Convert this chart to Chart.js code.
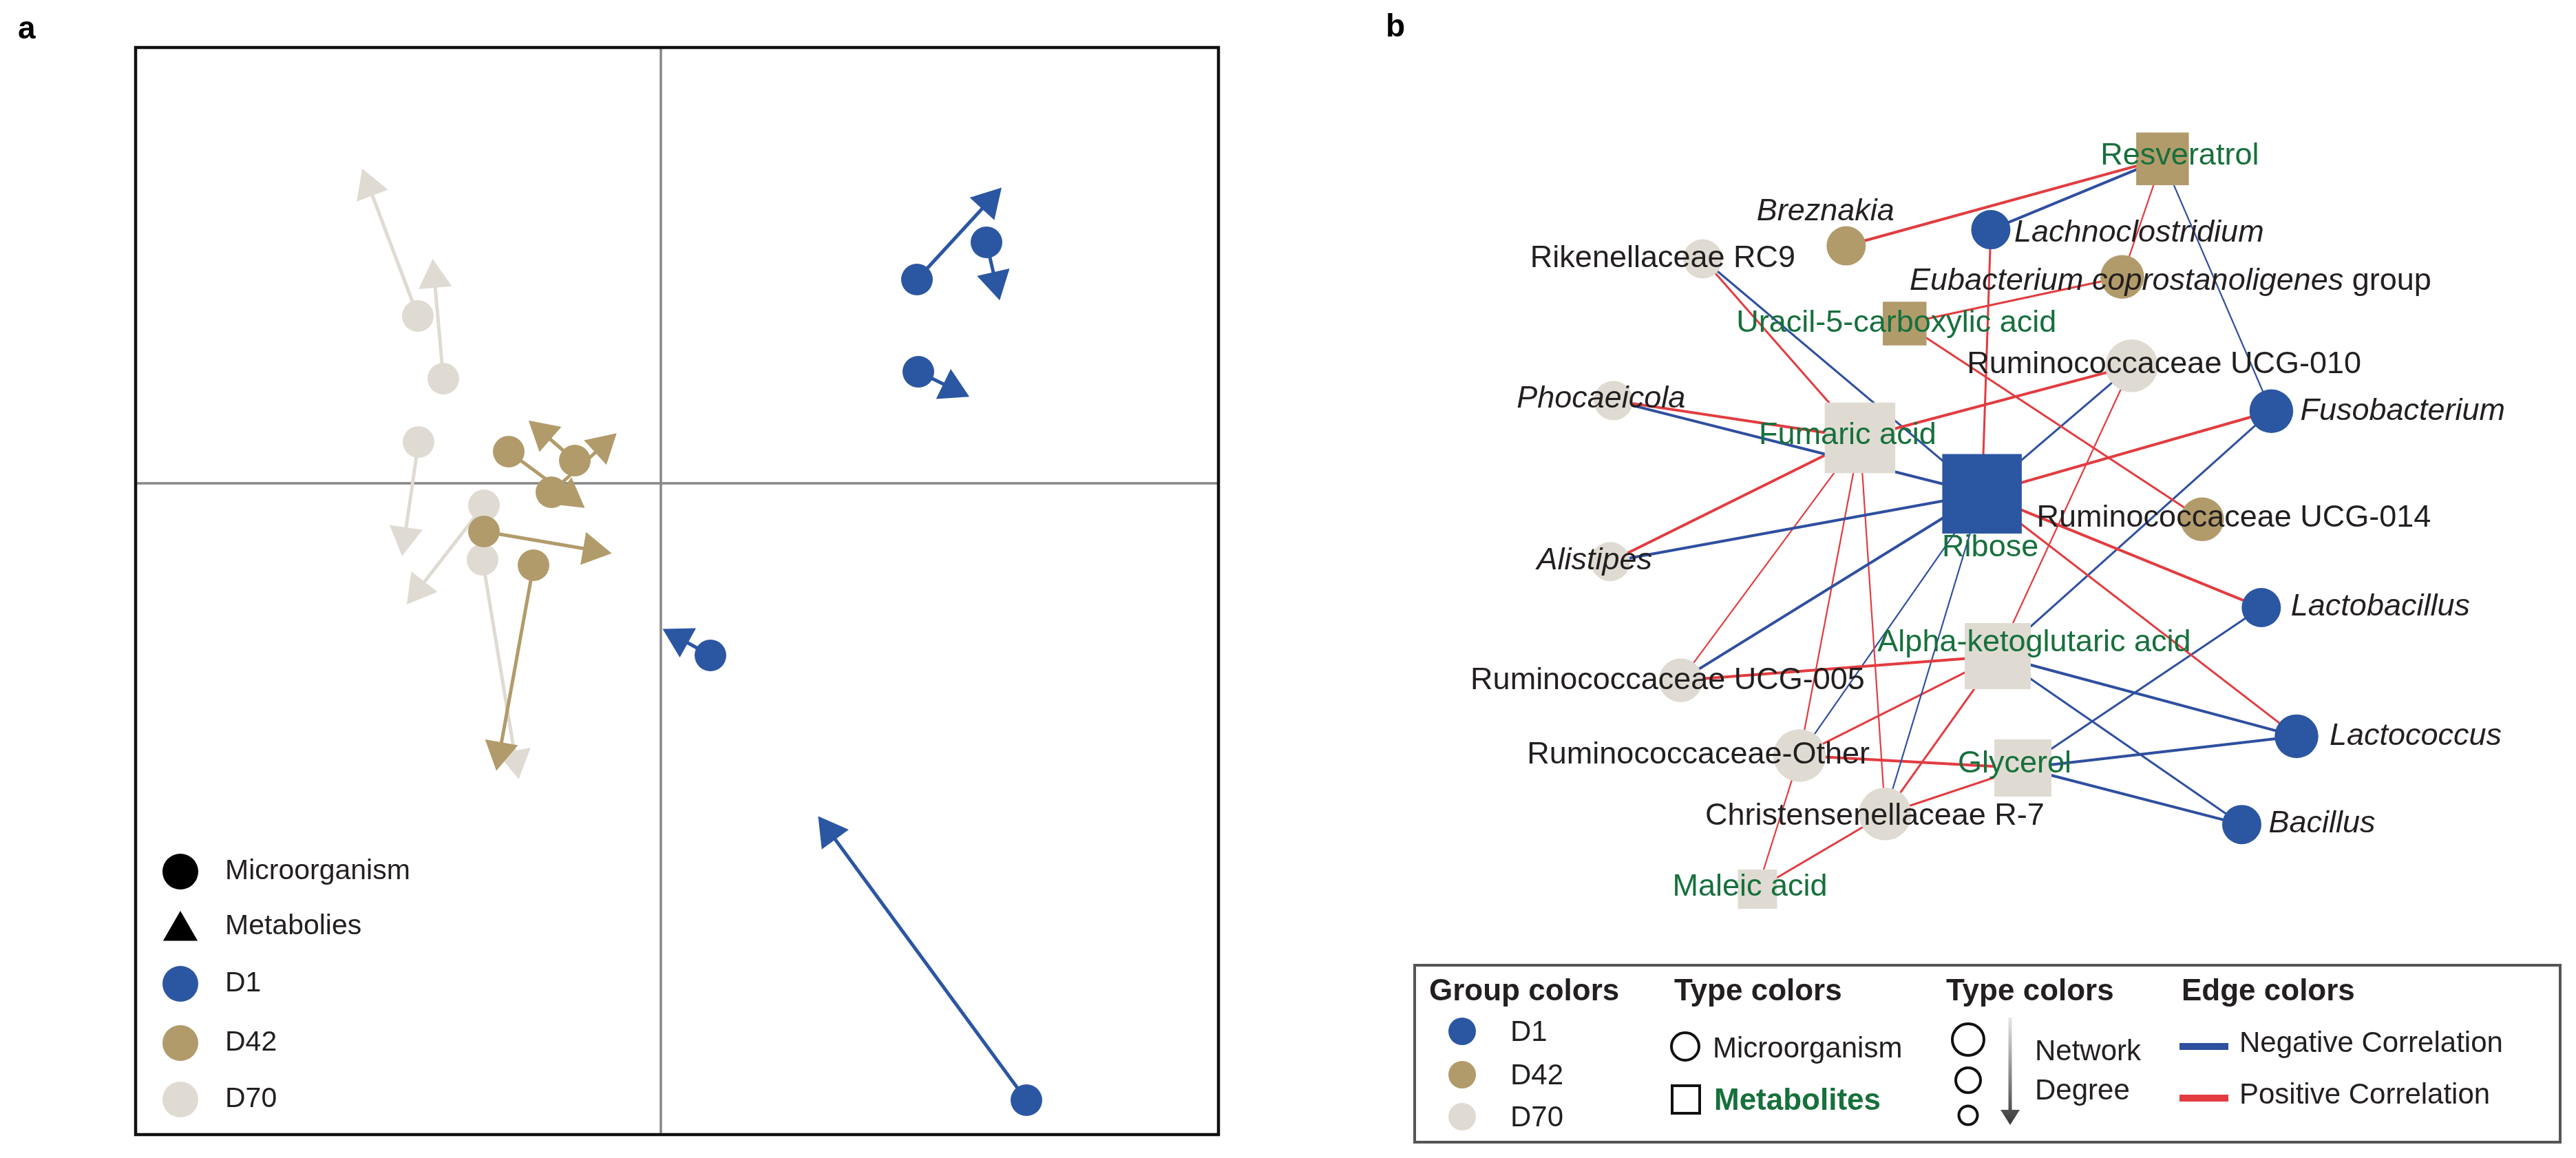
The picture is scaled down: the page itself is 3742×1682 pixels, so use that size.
<!DOCTYPE html>
<html><head><meta charset="utf-8">
<script src="https://cdn.jsdelivr.net/npm/chart.js"></script>
<style>
html,body{margin:0;padding:0;background:#fff;width:3742px;height:1682px;overflow:hidden}
canvas{position:absolute;top:0}
#ca{left:0}
#cb{left:1850px}
</style></head><body>
<canvas id="ca" width="1850" height="1682"></canvas>
<canvas id="cb" width="1892" height="1682"></canvas>
<script>
// ================= Panel a: Procrustes scores (microorganism -> metabolite) =================
const groupNames = ['D1', 'D42', 'D70'];
const D1_micro  = [[0.186, 0.148], [0.2365, 0.175], [0.187, 0.081], [0.036, -0.125], [0.2655, -0.448]];
const D1_metab  = [[0.238, 0.2045], [0.243, 0.1465], [0.2115, 0.069], [0.0135, -0.1125], [0.1225, -0.253]];
const D42_micro = [[-0.1105, 0.023], [-0.0795, -0.0065], [-0.0625, 0.0165], [-0.1285, -0.035], [-0.0925, -0.0595]];
const D42_metab = [[-0.0665, -0.0095], [-0.0425, 0.027], [-0.0855, 0.0365], [-0.0495, -0.0485], [-0.117, -0.195]];
const D70_micro = [[-0.1765, 0.1215], [-0.158, 0.076], [-0.176, 0.03], [-0.1285, -0.016], [-0.1295, -0.0555]];
const D70_metab = [[-0.212, 0.2155], [-0.1645, 0.149], [-0.186, -0.039], [-0.176, -0.077], [-0.1055, -0.201]];
const axisXRange = [-0.3815, 0.405];
const axisYRange = [-0.473, 0.3165];
const legendALabels = ['Microorganism', 'Metabolies', 'D1', 'D42', 'D70'];

// ================= Panel b: correlation network =================
const nodeNames = ['Rikenellaceae RC9', 'Breznakia', 'Lachnoclostridium', 'Resveratrol',
  'Eubacterium coprostanoligenes group', 'Uracil-5-carboxylic acid', 'Ruminococcaceae UCG-010',
  'Fusobacterium', 'Phocaeicola', 'Fumaric acid', 'Ribose', 'Ruminococcaceae UCG-014', 'Alistipes',
  'Lactobacillus', 'Alpha-ketoglutaric acid', 'Ruminococcaceae UCG-005', 'Lactococcus',
  'Ruminococcaceae-Other', 'Glycerol', 'Christensenellaceae R-7', 'Bacillus', 'Maleic acid'];
const nodeType  = ['micro','micro','micro','metab','micro','metab','micro','micro','micro','metab','metab',
  'micro','micro','micro','metab','micro','micro','micro','metab','micro','micro','metab'];
const nodeGroup = ['D70','D42','D1','D42','D42','D42','D70','D1','D70','D70','D1','D42','D70','D1','D70',
  'D70','D1','D70','D70','D70','D1','D70'];
// layout coordinates of the network
const nodeX = [593, 821, 1051, 1324, 1260, 914, 1275, 1497, 451, 843, 1037, 1387, 446, 1481, 1062, 558, 1537, 747, 1102, 883, 1450, 680];
const nodeY = [326, 305, 279, 165, 355, 430, 498, 571, 554, 614, 704, 745, 813, 887, 965, 1004, 1094, 1125, 1145, 1219, 1236, 1340];
const nodeDegree = [2, 2, 2, 5, 3, 3, 5, 3, 2, 9, 11, 3, 2, 2, 8, 3, 3, 5, 6, 5, 2, 2];
const edgeFrom = ['Breznakia','Lachnoclostridium','Resveratrol','Resveratrol','Lachnoclostridium',
  'Eubacterium coprostanoligenes group','Ruminococcaceae UCG-010','Uracil-5-carboxylic acid','Rikenellaceae RC9',
  'Rikenellaceae RC9','Phocaeicola','Phocaeicola','Alistipes','Alistipes','Ribose','Ribose','Ribose','Ribose',
  'Alpha-ketoglutaric acid','Alpha-ketoglutaric acid','Alpha-ketoglutaric acid','Alpha-ketoglutaric acid',
  'Lactobacillus','Glycerol','Glycerol','Alpha-ketoglutaric acid','Fumaric acid','Ribose','Fumaric acid',
  'Fumaric acid','Ribose','Ribose','Alpha-ketoglutaric acid','Alpha-ketoglutaric acid','Ruminococcaceae-Other',
  'Christensenellaceae R-7','Ruminococcaceae-Other','Christensenellaceae R-7'];
const edgeTo = ['Resveratrol','Resveratrol','Eubacterium coprostanoligenes group','Fusobacterium','Ribose',
  'Uracil-5-carboxylic acid','Fumaric acid','Ruminococcaceae UCG-014','Fumaric acid','Ribose','Fumaric acid',
  'Ribose','Fumaric acid','Ribose','Ruminococcaceae UCG-010','Fusobacterium','Lactobacillus','Lactococcus',
  'Ruminococcaceae UCG-010','Fusobacterium','Lactococcus','Bacillus','Glycerol','Lactococcus','Bacillus',
  'Ruminococcaceae UCG-005','Ruminococcaceae UCG-005','Ruminococcaceae UCG-005','Ruminococcaceae-Other',
  'Christensenellaceae R-7','Ruminococcaceae-Other','Christensenellaceae R-7','Ruminococcaceae-Other',
  'Christensenellaceae R-7','Glycerol','Glycerol','Maleic acid','Maleic acid'];
const edgeSign = [1,-1,1,-1,1,1,1,1,1,-1,1,-1,1,-1,-1,1,1,1,1,-1,-1,-1,-1,-1,-1,1,1,-1,1,1,-1,-1,1,1,1,1,1,1];
const edgeStrength = [3,3,1,1,2,2,3,2,2,2,3,3,3,3,2,3,3,2,1,2,3,2,2,3,3,3,1,3,1,1,1,1,2,2,3,2,1,2];

// ================= styles =================
const FONT = "'Liberation Sans', Arial, sans-serif";
const groupColors = {D1: '#2b56a2', D42: '#b29b6b', D70: '#dfdbd2'};
const POS = '#e23c40', NEG = '#2f4f9f', GREEN = '#17703c', INK = '#231f20';
const labelLayout = {
  'Rikenellaceae RC9': [-58, 0, 'center'], 'Breznakia': [-30, -50, 'center'],
  'Lachnoclostridium': [34, 5, 'left'], 'Resveratrol': [25, -4, 'center'],
  'Eubacterium coprostanoligenes group': [70, 6, 'center'], 'Uracil-5-carboxylic acid': [-12, 0, 'center'],
  'Ruminococcaceae UCG-010': [47, -2, 'center'], 'Fusobacterium': [42, 0, 'left'],
  'Phocaeicola': [-18, -2, 'center'], 'Fumaric acid': [-18, -3, 'center'], 'Ribose': [12, 78, 'center'],
  'Ruminococcaceae UCG-014': [46, -2, 'center'], 'Alistipes': [-23, -1, 'center'],
  'Lactobacillus': [43, -1, 'left'], 'Alpha-ketoglutaric acid': [53, -19, 'center'],
  'Ruminococcaceae UCG-005': [-19, 0, 'center'], 'Lactococcus': [48, 0, 'left'],
  'Ruminococcaceae-Other': [-147, -1, 'center'], 'Glycerol': [-12, -6, 'center'],
  'Christensenellaceae R-7': [-15, 3, 'center'], 'Bacillus': [39, -1, 'left'], 'Maleic acid': [-11, -3, 'center']
};
const italicNames = ['Breznakia','Lachnoclostridium','Fusobacterium','Phocaeicola','Alistipes','Lactobacillus','Lactococcus','Bacillus'];
const labelParts = {'Eubacterium coprostanoligenes group': [['Eubacterium coprostanoligenes', true], [' group', false]]};

function drawTextParts(ctx, parts, x, y, align, color, size, weight) {
  ctx.fillStyle = color; ctx.textBaseline = 'middle'; ctx.textAlign = 'left';
  const fonts = parts.map(p => (p[1] ? 'italic ' : '') + (weight || '') + ' ' + size + 'px ' + FONT);
  let total = 0;
  const ws = parts.map((p, i) => { ctx.font = fonts[i]; const w = ctx.measureText(p[0]).width; total += w; return w; });
  let cx = align === 'center' ? x - total / 2 : x;
  parts.forEach((p, i) => { ctx.font = fonts[i]; ctx.fillText(p[0], cx, y); cx += ws[i]; });
}
function triPath(ctx, x, y, r, rotDeg) {
  let a = rotDeg * Math.PI / 180;
  ctx.beginPath();
  for (let k = 0; k < 3; k++) {
    const px = x + Math.sin(a) * r, py = y - Math.cos(a) * r;
    if (k === 0) ctx.moveTo(px, py); else ctx.lineTo(px, py);
    a += 2 * Math.PI / 3;
  }
  ctx.closePath();
}

// ================= Chart A =================
function arrowRotation(c) {
  if (c.dataIndex !== 1 || !c.chart.scales || !c.chart.scales.x) return 0;
  const d = c.dataset.data, xs = c.chart.scales.x, ys = c.chart.scales.y;
  const dx = xs.getPixelForValue(d[1].x) - xs.getPixelForValue(d[0].x);
  const dy = ys.getPixelForValue(d[1].y) - ys.getPixelForValue(d[0].y);
  return Math.atan2(dx, -dy) * 180 / Math.PI;
}
function pairDatasets(micro, metab, color) {
  return micro.map((m, i) => ({
    type: 'line',
    data: [{x: m[0], y: m[1]}, {x: metab[i][0], y: metab[i][1]}],
    borderColor: color, backgroundColor: color, borderWidth: 5,
    pointStyle: ['circle', 'triangle'], pointRadius: [23, 28], pointHoverRadius: [23, 28],
    pointBorderWidth: 0, pointBackgroundColor: color, pointRotation: arrowRotation,
    fill: false, tension: 0
  }));
}
const panelAPlugin = {
  id: 'panelA',
  beforeDatasetsDraw(chart) {
    const {ctx, chartArea: a, scales: {x, y}} = chart;
    ctx.save();
    ctx.strokeStyle = '#878787'; ctx.lineWidth = 3.5;
    const x0 = x.getPixelForValue(0), y0 = y.getPixelForValue(0);
    ctx.beginPath();
    ctx.moveTo(x0, a.top); ctx.lineTo(x0, a.bottom);
    ctx.moveTo(a.left, y0); ctx.lineTo(a.right, y0);
    ctx.stroke();
    ctx.restore();
  },
  afterDraw(chart) {
    const {ctx, chartArea: a} = chart;
    ctx.save();
    ctx.strokeStyle = '#111'; ctx.lineWidth = 4.5;
    ctx.strokeRect(a.left, a.top, a.right - a.left, a.bottom - a.top);
    drawTextParts(ctx, [['a', false]], 26, 43, 'left', '#000', 46, 'bold');
    const mx = a.left + 65, tx = a.left + 130;
    const ys = [1266, 1346, 1429, 1515, 1597];
    const cols = ['#000', '#000', groupColors.D1, groupColors.D42, groupColors.D70];
    legendALabels.forEach((lab, i) => {
      ctx.fillStyle = cols[i];
      if (i === 1) { triPath(ctx, mx, ys[i] + 6, 29, 0); ctx.fill(); }
      else { ctx.beginPath(); ctx.arc(mx, ys[i], 26, 0, Math.PI * 2); ctx.fill(); }
      drawTextParts(ctx, [[lab, false]], tx, ys[i], 'left', INK, 41);
    });
    ctx.restore();
  }
};
new Chart(document.getElementById('ca'), {
  type: 'line',
  data: {datasets: [
    ...pairDatasets(D1_micro, D1_metab, groupColors.D1),
    ...pairDatasets(D42_micro, D42_metab, groupColors.D42),
    ...pairDatasets(D70_micro, D70_metab, groupColors.D70)
  ]},
  options: {
    responsive: false, animation: false,
    layout: {padding: {left: 197, top: 69, right: 80, bottom: 34}},
    scales: {
      x: {type: 'linear', min: axisXRange[0], max: axisXRange[1], display: false},
      y: {type: 'linear', min: axisYRange[0], max: axisYRange[1], display: false}
    },
    plugins: {legend: {display: false}, tooltip: {enabled: false}}
  },
  plugins: [panelAPlugin]
});

// ================= Chart B =================
const idx = {}; nodeNames.forEach((n, i) => idx[n] = i);
const nodeSize = d => 44 + 6.5 * d; // diameter / side from degree
const edgeWidth = s => [0, 2.2, 3.0, 4.0][s];
const edgeDatasets = edgeFrom.map((f, k) => {
  const a = idx[f], b = idx[edgeTo[k]];
  return {
    type: 'line', order: 1,
    data: [{x: nodeX[a], y: nodeY[a]}, {x: nodeX[b], y: nodeY[b]}],
    borderColor: edgeSign[k] > 0 ? POS : NEG, borderWidth: edgeWidth(edgeStrength[k]),
    pointRadius: 0, pointHoverRadius: 0, fill: false, tension: 0
  };
});
const nodeDataset = {
  type: 'scatter', order: 0,
  data: nodeNames.map((n, i) => ({x: nodeX[i], y: nodeY[i]})),
  pointStyle: nodeType.map(t => t === 'metab' ? 'rect' : 'circle'),
  pointRadius: nodeDegree.map((d, i) => nodeType[i] === 'metab' ? nodeSize(d) * Math.SQRT1_2 : nodeSize(d) / 2),
  pointHoverRadius: nodeDegree.map((d, i) => nodeType[i] === 'metab' ? nodeSize(d) * Math.SQRT1_2 : nodeSize(d) / 2),
  pointBackgroundColor: nodeGroup.map(g => groupColors[g]),
  pointBorderWidth: 0, showLine: false
};
const panelBPlugin = {
  id: 'panelB',
  afterDatasetsDraw(chart) {
    const {ctx, scales: {x, y}} = chart;
    ctx.save();
    nodeNames.forEach((n, i) => {
      const L = labelLayout[n];
      const parts = labelParts[n] || [[n, italicNames.includes(n)]];
      drawTextParts(ctx, parts, x.getPixelForValue(nodeX[i]) + L[0], y.getPixelForValue(nodeY[i]) + L[1],
        L[2], nodeType[i] === 'metab' ? GREEN : INK, 45);
    });
    drawTextParts(ctx, [['b', false]], 163, 40, 'left', '#000', 46, 'bold');
    ctx.strokeStyle = '#555'; ctx.lineWidth = 4;
    ctx.strokeRect(205, 1402, 1664, 257);
    const H = 44, T = 42;
    drawTextParts(ctx, [['Group colors', false]], 226, 1441, 'left', INK, H, 'bold');
    const gy = [1498, 1561, 1622];
    groupNames.forEach((g, i) => {
      ctx.fillStyle = groupColors[g];
      ctx.beginPath(); ctx.arc(274, gy[i], 20, 0, Math.PI * 2); ctx.fill();
      drawTextParts(ctx, [[g, false]], 344, gy[i] + 2, 'left', INK, T);
    });
    drawTextParts(ctx, [['Type colors', false]], 582, 1441, 'left', INK, H, 'bold');
    ctx.strokeStyle = '#111'; ctx.lineWidth = 4;
    ctx.beginPath(); ctx.arc(598, 1520, 20, 0, Math.PI * 2); ctx.stroke();
    drawTextParts(ctx, [['Microorganism', false]], 638, 1524, 'left', INK, T);
    ctx.strokeRect(579, 1577, 40, 40);
    drawTextParts(ctx, [['Metabolites', false]], 640, 1600, 'left', GREEN, H, 'bold');
    drawTextParts(ctx, [['Type colors', false]], 977, 1441, 'left', INK, H, 'bold');
    [[1510, 23], [1569, 18], [1620, 13.5]].forEach(c => {
      ctx.beginPath(); ctx.arc(1009, c[0], c[1], 0, Math.PI * 2); ctx.stroke();
    });
    const grad = ctx.createLinearGradient(0, 1478, 0, 1632);
    grad.addColorStop(0, '#e6e6e6'); grad.addColorStop(1, '#3a3a3a');
    ctx.strokeStyle = grad; ctx.lineWidth = 5;
    ctx.beginPath(); ctx.moveTo(1070, 1478); ctx.lineTo(1070, 1615); ctx.stroke();
    ctx.fillStyle = grad;
    ctx.beginPath(); ctx.moveTo(1056, 1612); ctx.lineTo(1084, 1612); ctx.lineTo(1070, 1634); ctx.closePath(); ctx.fill();
    drawTextParts(ctx, [['Network', false]], 1106, 1528, 'left', INK, T);
    drawTextParts(ctx, [['Degree', false]], 1106, 1585, 'left', INK, T);
    drawTextParts(ctx, [['Edge colors', false]], 1319, 1441, 'left', INK, H, 'bold');
    ctx.fillStyle = NEG; ctx.fillRect(1316, 1515, 71, 10);
    drawTextParts(ctx, [['Negative Correlation', false]], 1403, 1516, 'left', INK, T);
    ctx.fillStyle = POS; ctx.fillRect(1316, 1590, 71, 10);
    drawTextParts(ctx, [['Positive Correlation', false]], 1403, 1591, 'left', INK, T);
    ctx.restore();
  }
};
new Chart(document.getElementById('cb'), {
  type: 'line',
  data: {datasets: [nodeDataset, ...edgeDatasets]},
  options: {
    responsive: false, animation: false,
    layout: {padding: 0},
    scales: {
      x: {type: 'linear', min: 0, max: 1892, display: false},
      y: {type: 'linear', min: 0, max: 1682, reverse: true, display: false}
    },
    plugins: {legend: {display: false}, tooltip: {enabled: false}}
  },
  plugins: [panelBPlugin]
});
</script>
</body></html>
